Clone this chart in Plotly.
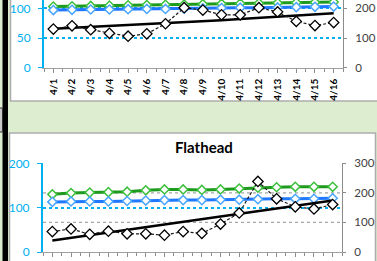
import plotly.graph_objects as go

W, H = 377, 261

dates = ["4/1", "4/2", "4/3", "4/4", "4/5", "4/6", "4/7", "4/8",
         "4/9", "4/10", "4/11", "4/12", "4/13", "4/14", "4/15", "4/16"]

# top panel (title cropped)
top_green = [103, 103.5, 104, 104.5, 105, 105.5, 106, 106.5, 107, 107.5, 108, 108.5, 109, 109.5, 110, 110.5]
top_blue = [97, 97.5, 98, 98, 98.5, 99, 99, 99.5, 100, 100.5, 101, 101, 101.5, 102, 102.5, 103]
top_trend = [65.5, 67, 68.5, 70, 71.5, 73, 75, 76.5, 78, 80, 82, 84, 86, 88, 90, 91.5]
top_actual = [65, 70.5, 64, 58, 53, 57, 74, 101, 97, 89, 89, 101, 94, 78, 71, 76]

# bottom panel "Flathead"
bot_green = [130, 133, 134, 135, 136, 139, 141, 141, 140, 141, 143, 145, 146, 147, 147, 147]
bot_blue = [113, 114, 114, 114, 115, 116, 117, 117, 117, 118, 118, 119, 120, 120, 120, 121]
bot_trend = [26, 32, 38, 44, 50, 56, 62, 68, 74, 80, 86, 92, 98, 104, 110, 116]
bot_actual = [46, 52, 40, 47, 41, 41, 38, 46, 42, 63, 88, 159, 120, 102, 97, 107]

# right-axis gray gridline levels of the bottom panel
bot_right_grid = [100, 200]

FONT = "Lato"
CYAN = "#00B0F0"
GREEN = "#1E9A1E"
GREEN_M = "#3CC03C"
BLUE = "#1F78FF"
BLUE_M = "#4AA5FF"
BG = "#DDEDCF"

def px_x(x):
    return x / W

def px_y(y):
    return 1 - y / H

xs = list(range(len(dates)))

fig = go.Figure()

def add_panel(green, blue, trend, actual, xa, ya):
    fig.add_trace(go.Scatter(x=xs, y=green, xaxis=xa, yaxis=ya, mode="lines+markers",
                             line=dict(color=GREEN, width=3),
                             marker=dict(symbol="diamond", size=7, color="white",
                                         line=dict(color=GREEN_M, width=1.5)),
                             showlegend=False))
    fig.add_trace(go.Scatter(x=xs, y=blue, xaxis=xa, yaxis=ya, mode="lines+markers",
                             line=dict(color=BLUE, width=3),
                             marker=dict(symbol="diamond", size=7, color="white",
                                         line=dict(color=BLUE_M, width=1.5)),
                             showlegend=False))
    fig.add_trace(go.Scatter(x=xs, y=trend, xaxis=xa, yaxis=ya, mode="lines",
                             line=dict(color="black", width=2.5),
                             showlegend=False))
    fig.add_trace(go.Scatter(x=xs, y=actual, xaxis=xa, yaxis=ya, mode="lines+markers",
                             line=dict(color="#1A1A1A", width=1.2, dash="3px,2px"),
                             marker=dict(symbol="diamond", size=8, color="white",
                                         line=dict(color="black", width=1.3)),
                             showlegend=False))

add_panel(top_green, top_blue, top_trend, top_actual, "x", "y")
add_panel(bot_green, bot_blue, bot_trend, bot_actual, "x2", "y3")

boundaries = [i - 0.5 for i in range(len(dates) + 1)]

def xaxis_style(domain, anchor):
    return dict(domain=domain, anchor=anchor, range=[-0.5, len(dates) - 0.5],
                automargin=False,
                tickmode="array", tickvals=xs, ticktext=dates, tickangle=-90,
                ticks="outside", ticklen=4, tickcolor="#8C8C8C",
                minor=dict(tickmode="array", tickvals=boundaries, ticks="outside",
                           ticklen=3, tickcolor="#8C8C8C"),
                showline=True, linecolor="#A0A0A0", linewidth=1,
                showgrid=False, zeroline=False,
                tickfont=dict(family=FONT, size=10, color="black", weight="bold"),
                ticklabelstandoff=2)

def yleft(domain, anchor, rng, dtick):
    return dict(domain=domain, anchor=anchor, range=rng, dtick=dtick,
                automargin=False,
                showline=True, linecolor=CYAN, linewidth=2,
                ticks="outside", ticklen=4, tickcolor=CYAN,
                showgrid=True, gridcolor=CYAN, griddash="dot", gridwidth=1.5,
                zeroline=False,
                tickfont=dict(family=FONT, size=12, color=CYAN),
                ticklabelstandoff=5)

def yright(overlay, anchor, rng, dtick):
    return dict(overlaying=overlay, anchor=anchor, side="right", range=rng, dtick=dtick,
                automargin=False,
                showline=True, linecolor="#8C8C8C", linewidth=1,
                ticks="outside", ticklen=3, tickcolor="#8C8C8C",
                showgrid=False, zeroline=False,
                tickfont=dict(family=FONT, size=11.5, color="#404040"),
                ticklabelstandoff=6)

top_xd = [px_x(44), px_x(343)]
top_yd = [px_y(67.7), 1.0]
bot_xd = [px_x(43), px_x(342)]
bot_yd = [px_y(252), px_y(163.3)]

# dummy traces so secondary axes render
fig.add_trace(go.Scatter(x=[None], y=[None], xaxis="x", yaxis="y2", showlegend=False))
fig.add_trace(go.Scatter(x=[None], y=[None], xaxis="x2", yaxis="y4", showlegend=False))

shapes = [
    # top panel
    dict(type="rect", xref="paper", yref="paper", x0=px_x(10.5), x1=px_x(385),
         y0=px_y(101), y1=px_y(-10), fillcolor="white",
         line=dict(color="#ADADAD", width=1.5), layer="below"),
    # bottom panel
    dict(type="rect", xref="paper", yref="paper", x0=px_x(9.5), x1=px_x(375.5),
         y0=px_y(275), y1=px_y(133), fillcolor="white",
         line=dict(color="#ADADAD", width=1.5), layer="below"),
    # left black bar
    dict(type="rect", xref="paper", yref="paper", x0=px_x(2.5), x1=px_x(8),
         y0=px_y(265), y1=px_y(-5), fillcolor="black", line=dict(width=0), layer="below"),
    dict(type="rect", xref="paper", yref="paper", x0=px_x(-2), x1=px_x(2.5),
         y0=px_y(132), y1=px_y(108), fillcolor="#C8C8C8",
         line=dict(color="#303030", width=1), layer="below"),
]
# gray dotted right-axis gridlines (bottom panel)
for v in bot_right_grid:
    shapes.append(dict(type="line", xref="x2 domain", yref="y4", x0=0, x1=1, y0=v, y1=v,
                       line=dict(color="#A6A6A6", width=1.2, dash="dot"), layer="below"))

fig.update_layout(
    width=W, height=H, autosize=False,
    margin=dict(l=0, r=0, t=0, b=0, pad=0),
    paper_bgcolor=BG, plot_bgcolor="rgba(0,0,0,0)",
    font=dict(family=FONT),
    hovermode=False,
    xaxis=xaxis_style(top_xd, "y"),
    yaxis=yleft(top_yd, "x", [0, 114], 50),
    yaxis2=yright("y", "x", [0, 228], 100),
    xaxis2=xaxis_style(bot_xd, "y3"),
    yaxis3=yleft(bot_yd, "x2", [0, 200], 100),
    yaxis4=yright("y3", "x2", [0, 300], 100),
    shapes=shapes,
    annotations=[dict(text="<b>Flathead</b>", xref="paper", yref="paper",
                      x=px_x(204), y=px_y(147), xanchor="center", yanchor="middle",
                      showarrow=False, font=dict(family=FONT, size=15, color="black"))],
)

fig.write_html("out.html", config={"displayModeBar": False},
               post_script="document.body.style.margin='0px';document.body.style.overflow='hidden';")
